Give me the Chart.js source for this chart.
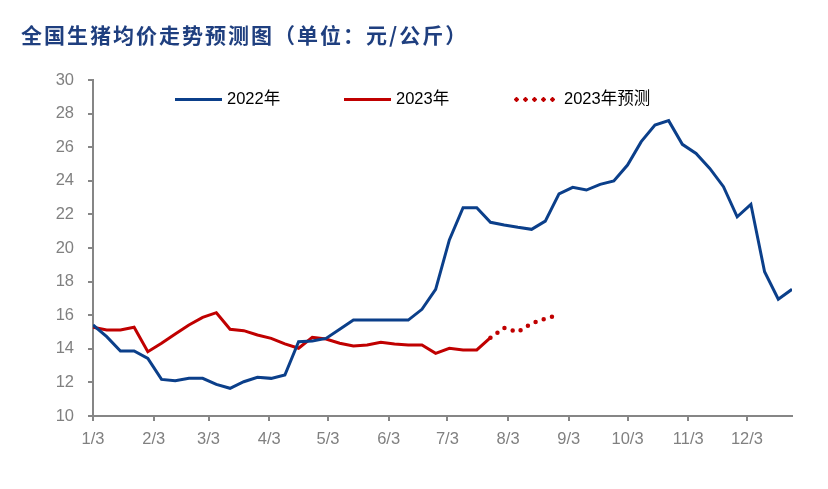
<!DOCTYPE html>
<html>
<head>
<meta charset="utf-8">
<script src="https://cdn.jsdelivr.net/npm/chart.js@4"></script>
<style>
  html, body { margin: 0; padding: 0; background: #fff; }
  #wrap { position: relative; width: 828px; height: 489px; }
  #title {
    position: absolute; left: 21px; top: 19px;
    font: bold 21px "Noto Sans CJK SC", sans-serif; letter-spacing: 2px;
    color: #1f3f7f; white-space: nowrap;
  }
  #legend {
    position: absolute; left: 0; top: 87px; width: 828px;
    font: 16.5px "Liberation Sans", "Noto Sans CJK SC", sans-serif; color: #000;
  }
  .item { position: absolute; top: 0; height: 22px; line-height: 22px; white-space: nowrap; }
  .sample { display: inline-block; width: 47px; height: 3px; vertical-align: middle; margin-right: 5px; }
  .dots {
    height: 5px;
    background: radial-gradient(circle, #c00000 2px, transparent 2.4px) 0 0 / 9px 5px repeat-x;
  }
</style>
</head>
<body>
<div id="wrap">
  <canvas id="chart" width="828" height="489"></canvas>
  <div id="title">全国生猪均价走势预测图（单位：元/公斤）</div>
  <div id="legend"></div>
</div>
<script>
// weekly prices, first point on 1/3
const values2022 = [15.42, 14.72, 13.87, 13.87, 13.43, 12.18, 12.1, 12.24, 12.24, 11.88,
  11.65, 12.04, 12.3, 12.24, 12.44, 14.42, 14.46, 14.62, 15.16, 15.71,
  15.71, 15.71, 15.71, 15.71, 16.35, 17.54, 20.48, 22.4, 22.4, 21.53,
  21.37, 21.23, 21.11, 21.6, 23.22, 23.61, 23.45, 23.79, 23.99, 24.94,
  26.33, 27.32, 27.58, 26.17, 25.63, 24.74, 23.65, 21.86, 22.6, 18.59,
  16.95, 17.54]
const values2023 = [15.28, 15.12, 15.12, 15.28, 13.83, 14.33, 14.88, 15.42, 15.87, 16.15,
  15.16, 15.08, 14.82, 14.62, 14.29, 14.03, 14.68, 14.58, 14.33, 14.17,
  14.23, 14.39, 14.29, 14.23, 14.23, 13.73, 14.03, 13.93, 13.93, 14.66]
const forecastDays = [203, 210, 217, 224, 231, 235]
const forecastValues = [14.66, 15.25, 15.0, 15.5, 15.8, 15.92]

// days after 1/3
const tickDays = [0, 31, 59, 90, 120, 151, 181, 212, 243, 273, 304, 334]
const tickLabels = ['1/3', '2/3', '3/3', '4/3', '5/3', '6/3', '7/3', '8/3', '9/3', '10/3', '11/3', '12/3']

const blue = '#0b3f8a'
const red = '#c00000'
const axisGray = '#868686'

const weekly = values => values.map((v, i) => ({ x: i * 7, y: v }))

new Chart(document.getElementById('chart'), {
  type: 'line',
  data: {
    datasets: [
      { label: '2022年', data: weekly(values2022), borderColor: blue, borderWidth: 3, pointRadius: 0, tension: 0 },
      { label: '2023年', data: weekly(values2023), borderColor: red, borderWidth: 3, pointRadius: 0, tension: 0 },
      {
        label: '2023年预测',
        data: forecastDays.map((d, i) => ({ x: d, y: forecastValues[i] })),
        borderColor: red, borderWidth: 4.5, borderDash: [0, 8.6], borderCapStyle: 'round',
        pointRadius: 0, tension: 0
      }
    ]
  },
  options: {
    responsive: false,
    animation: false,
    layout: { padding: { top: 80, right: 36, left: 0, bottom: 0 } },
    plugins: { legend: { display: false }, tooltip: { enabled: false } },
    scales: {
      x: {
        type: 'linear',
        min: 0,
        max: 357,
        afterBuildTicks: s => { s.ticks = tickDays.map(v => ({ value: v })) },
        afterFit: s => { s.height = 73 },
        grid: { drawOnChartArea: false, drawTicks: true, tickLength: 5, color: axisGray, lineWidth: 2 },
        border: { color: axisGray, width: 2 },
        ticks: {
          autoSkip: false, maxRotation: 0, padding: 9,
          color: '#808080', font: { family: 'Liberation Sans', size: 16.5 },
          callback: (v, i) => tickLabels[i]
        }
      },
      y: {
        min: 10,
        max: 30,
        afterFit: s => { s.width = 93 },
        grid: { drawOnChartArea: false, drawTicks: true, tickLength: 5, color: axisGray, lineWidth: 2 },
        border: { color: axisGray, width: 2 },
        ticks: {
          stepSize: 2, padding: 14,
          color: '#808080', font: { family: 'Liberation Sans', size: 16.5 }
        }
      }
    }
  }
})

// legend drawn over the plot area
const legendItems = [
  { text: '2022年', left: 175, style: 'background:' + blue },
  { text: '2023年', left: 344, style: 'background:' + red },
  { text: '2023年预测', left: 512, cls: 'dots' }
]
const legend = document.getElementById('legend')
legendItems.forEach(it => {
  const el = document.createElement('div')
  el.className = 'item'
  el.style.left = it.left + 'px'
  el.innerHTML = '<span class="sample ' + (it.cls || '') + '" style="' + (it.style || '') + '"></span>' + it.text
  legend.appendChild(el)
})
</script>
</body>
</html>
